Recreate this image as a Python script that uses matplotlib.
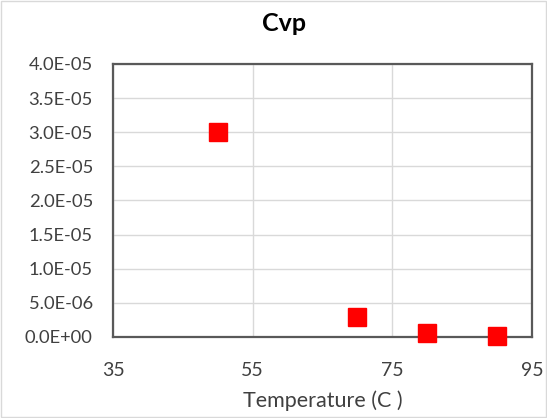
import numpy as np
import matplotlib.pyplot as plt
from matplotlib.ticker import FuncFormatter

# Cvp against temperature
temp = [50, 70, 80, 90]
cvp = [3.0e-05, 2.9e-06, 6.0e-07, 1.0e-07]

plt.rcParams['font.family'] = ['Lato', 'DejaVu Sans']

fig = plt.figure(figsize=(5.47, 4.18), dpi=100)
ax = fig.add_axes([0.2066, 0.194, 0.766, 0.653])

ax.plot(temp, cvp, 's', color='#ff0000', markersize=13.5, zorder=3, clip_on=False)

ax.set_xlim(35, 95)
ax.set_ylim(0, 4.0e-05)
ax.set_xticks([35, 55, 75, 95])
ax.set_yticks(np.arange(0, 4.01e-05, 5e-06))
ax.yaxis.set_major_formatter(FuncFormatter(lambda v, p: '%.1E' % v))

ax.grid(True, color='#d9d9d9', linewidth=1.0)
ax.set_axisbelow(True)
for s in ax.spines.values():
    s.set_color('#595959')
    s.set_linewidth(1.6)
ax.tick_params(length=0, colors='#404040')
ax.tick_params(axis='x', pad=18, labelsize=14)
ax.tick_params(axis='y', pad=14.5, labelsize=13.2)

# chart title sits over the middle of the whole chart area
fig.text(284 / 547, 1 - 31 / 418, 'Cvp', fontsize=18,
         fontweight='bold', ha='center', va='baseline', color='#000000')
ax.set_xlabel('Temperature (C )', fontsize=15.5, color='#404040', va='center')
ax.xaxis.set_label_coords(0.5, (337 - 401) / 273)

fig.patches.append(plt.Rectangle((0.002, 0.002), 0.996, 0.996, transform=fig.transFigure,
                                 fill=False, edgecolor='#d9d9d9', linewidth=1))

fig.savefig('out.png', dpi=100)
